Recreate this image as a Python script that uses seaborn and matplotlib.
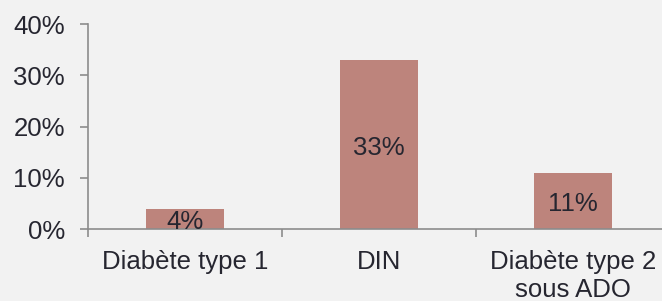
import matplotlib.pyplot as plt
import seaborn as sns
from matplotlib.ticker import FuncFormatter, FixedLocator

categories = ["Diabète type 1", "DIN", "Diabète type 2\nsous ADO"]
values = [4, 33, 11]
labels = ["4%", "33%", "11%"]

bg = "#F2F2F2"
bar_color = "#BD847C"
text_color = "#262630"
axis_color = "#8C8C8C"
fs = 18.5

sns.set_style("white")
plt.rcParams["font.family"] = ["Liberation Sans", "DejaVu Sans"]

fig = plt.figure(figsize=(6.62, 3.01), dpi=100, facecolor=bg)
ax = fig.add_axes([88 / 662, 1 - 229.3 / 301, 1 - 88 / 662, (229.3 - 24) / 301])
ax.set_facecolor(bg)

sns.barplot(x=categories, y=values, color=bar_color, width=0.4, saturation=1,
            linewidth=0, ax=ax)

# value labels, cap-height centred in the bar
for i, (v, lab) in enumerate(zip(values, labels)):
    ax.annotate(lab, xy=(i, v / 2), xytext=(0, -7.5), textcoords="offset points",
                ha="center", va="baseline", fontsize=fs, color=text_color)

ax.set_ylim(0, 40)
ax.set_xlim(-0.5, 2.459)
ax.yaxis.set_major_locator(FixedLocator([0, 10, 20, 30, 40]))
ax.yaxis.set_major_formatter(FuncFormatter(lambda v, p: f"{v:.0f}%"))

ax.xaxis.set_minor_locator(FixedLocator([-0.5, 0.5, 1.5, 2.5]))
ax.tick_params(axis="x", which="major", length=0, pad=15, labelsize=fs, labelcolor=text_color)
ax.tick_params(axis="x", which="minor", length=6, width=1.2, color=axis_color,
               direction="out", bottom=True)
ax.tick_params(axis="y", which="major", length=5.5, width=1.2, color=axis_color,
               direction="out", labelsize=fs, labelcolor=text_color, pad=11, left=True)

for s in ["top", "right"]:
    ax.spines[s].set_visible(False)
for s in ["left", "bottom"]:
    ax.spines[s].set_color(axis_color)
    ax.spines[s].set_linewidth(1.2)

ax.set_xlabel("")
ax.set_ylabel("")

fig.savefig("out.png", dpi=100, facecolor=bg)
